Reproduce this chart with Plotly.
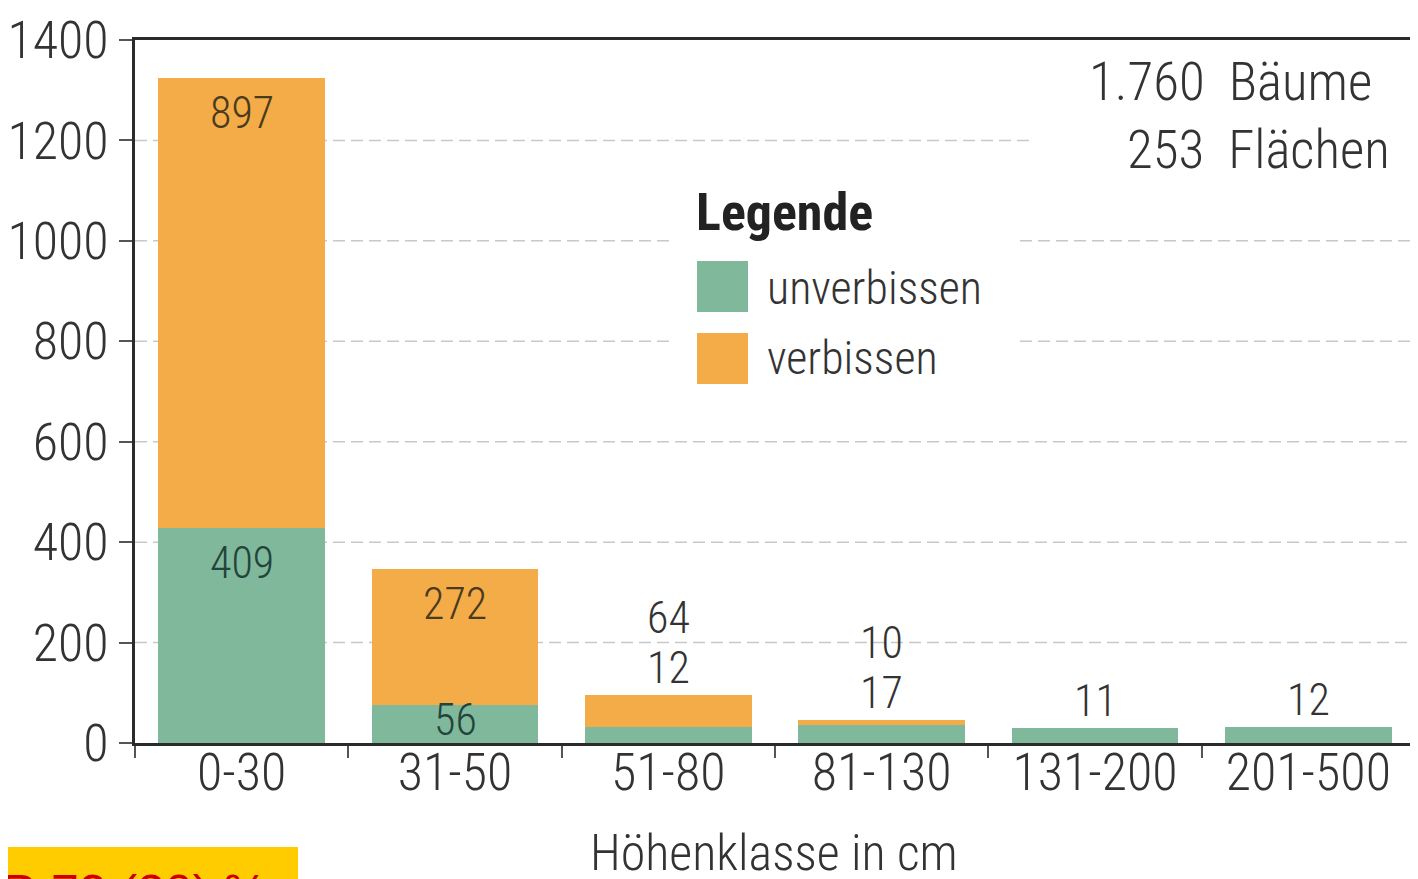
import plotly.graph_objects as go

# Werte aus der Grafik
hoehenklassen = ["0-30", "31-50", "51-80", "81-130", "131-200", "201-500"]
unverbissen = [409, 56, 12, 17, 11, 12]
verbissen = [897, 272, 64, 10, 0, 0]
y_ticks = [0, 200, 400, 600, 800, 1000, 1200, 1400]

# in der Vorlage beginnen alle gruenen Balken ca. 19 Einheiten zu hoch
SOCKEL = 19

GRUEN = "#80b89c"
ORANGE = "#f3ac48"
TEXT = "#333333"
FONT = "Roboto Condensed, Roboto, sans-serif"
LIGHT = 300

# die Seite hat 8px Rand, die Figur wird darum kleiner angelegt
RAND = 8
W, H = 1418 - RAND, 879 - RAND
L, R, T, B = 135, 1415, 40, 743


def px(x):
    return (x - L) / (R - L)


def py(y):
    return (B - y) / (B - T)


def schrift(size, color=TEXT, weight=LIGHT):
    return dict(size=size, color=color, family=FONT, weight=weight)


fig = go.Figure()

gruen_hoehe = [u + SOCKEL for u in unverbissen]

fig.add_trace(go.Bar(
    x=hoehenklassen, y=gruen_hoehe, name="unverbissen",
    marker=dict(color=GRUEN, line=dict(width=0)), width=0.78,
))
fig.add_trace(go.Bar(
    x=hoehenklassen, y=verbissen, name="verbissen",
    marker=dict(color=ORANGE, line=dict(width=0)), width=0.78,
))

annotations = []
label_size = 44
for i, kat in enumerate(hoehenklassen):
    g_top = gruen_hoehe[i]
    total = g_top + verbissen[i]
    if total > 200:
        # Beschriftung innerhalb der Balken
        annotations.append(dict(
            x=kat, y=total, yanchor="top", yshift=-7, text=str(verbissen[i]),
            showarrow=False, font=schrift(label_size, "#4a3a1e"),
        ))
        if g_top > 150:
            annotations.append(dict(
                x=kat, y=g_top, yanchor="top", yshift=-7, text=str(unverbissen[i]),
                showarrow=False, font=schrift(label_size, "#23443a"),
            ))
        else:
            annotations.append(dict(
                x=kat, y=0, yanchor="bottom", yshift=-5, text=str(unverbissen[i]),
                showarrow=False, font=schrift(label_size, "#23443a"),
            ))
    else:
        # Beschriftung ueber dem Balken
        annotations.append(dict(
            x=kat, y=total, yanchor="bottom", yshift=-1, text=str(unverbissen[i]),
            showarrow=False, font=schrift(label_size),
        ))
        if verbissen[i] > 0:
            annotations.append(dict(
                x=kat, y=total, yanchor="bottom", yshift=49, text=str(verbissen[i]),
                showarrow=False, font=schrift(label_size),
            ))

# Kennzahlen oben rechts
annotations.append(dict(
    xref="paper", yref="paper", x=px(1374), y=py(82), xanchor="right", yanchor="middle",
    text="1.760  Bäume", showarrow=False, font=schrift(53),
))
annotations.append(dict(
    xref="paper", yref="paper", x=px(1392), y=py(150), xanchor="right", yanchor="middle",
    text="253  Flächen", showarrow=False, font=schrift(53),
))

# Legende (von Hand, wegen der grossen Farbfelder)
annotations.append(dict(
    xref="paper", yref="paper", x=px(694), y=py(213), xanchor="left", yanchor="middle",
    text="Legende", showarrow=False, font=schrift(52, "#222222", 700),
))
for name, yc in [("unverbissen", 288), ("verbissen", 358)]:
    annotations.append(dict(
        xref="paper", yref="paper", x=px(765), y=py(yc), xanchor="left", yanchor="middle",
        text=name, showarrow=False, font=schrift(46),
    ))

# Achsentitel
annotations.append(dict(
    xref="paper", yref="paper", x=px(774), y=py(853), xanchor="center", yanchor="middle",
    text="Höhenklasse in cm", showarrow=False, font=schrift(50),
))

# Kennung unten links
annotations.append(dict(
    xref="paper", yref="paper", x=px(0), y=py(864), xanchor="left", yanchor="top",
    text="R 72 (30) %", showarrow=False, borderpad=0,
    font=dict(size=50, color="#cc0000", family="Liberation Sans, Arial, sans-serif"),
))

# Gitterlinien als Linien mit Luecken hinter Textblock und Legende
aussparungen = [(1035, 1415, 45, 190), (670, 1020, 175, 400)]
shapes = []
for v in y_ticks[1:-1]:
    y_pix = B - v / y_ticks[-1] * (B - T)
    start = L
    for x0, x1, y0, y1 in aussparungen:
        if y0 <= y_pix <= y1:
            shapes.append(dict(type="line", xref="paper", yref="y", x0=px(start), x1=px(x0),
                               y0=v, y1=v, line=dict(color="#c8c8c8", width=1.5, dash="12px,6px"),
                               layer="below"))
            start = x1
    if start < R:
        shapes.append(dict(type="line", xref="paper", yref="y", x0=px(start), x1=1,
                           y0=v, y1=v, line=dict(color="#c8c8c8", width=1.5, dash="12px,6px"),
                           layer="below"))

shapes += [
    # Farbfelder der Legende
    dict(type="rect", xref="paper", yref="paper", x0=px(697), x1=px(748),
         y0=py(312), y1=py(261), fillcolor=GRUEN, line=dict(width=0)),
    dict(type="rect", xref="paper", yref="paper", x0=px(697), x1=px(748),
         y0=py(384), y1=py(333), fillcolor=ORANGE, line=dict(width=0)),
    # gelbe Box unten links
    dict(type="rect", xref="paper", yref="paper", x0=px(0), x1=px(298),
         y0=py(900), y1=py(847), fillcolor="#ffcc00", line=dict(width=0), layer="below"),
]

fig.update_layout(
    width=W, height=H,
    margin=dict(l=L - RAND, r=1418 - R, t=T - RAND, b=879 - B),
    barmode="stack",
    bargap=0.22,
    showlegend=False,
    paper_bgcolor="white",
    plot_bgcolor="rgba(0,0,0,0)",
    font=dict(family=FONT, color=TEXT),
    annotations=annotations,
    shapes=shapes,
)

fig.update_xaxes(
    type="category", automargin=False, tickangle=0,
    showline=True, linecolor="#2b2b2b", linewidth=3, mirror=True,
    ticks="outside", tickson="boundaries", ticklen=12, tickwidth=2, tickcolor="#555555",
    tickfont=schrift(52), ticklabelstandoff=-18,
    showgrid=False,
)

fig.update_yaxes(
    range=[0, 1400], automargin=False,
    tickvals=y_ticks,
    showline=True, linecolor="#2b2b2b", linewidth=3, mirror=True,
    ticks="outside", ticklen=13, tickwidth=2, tickcolor="#555555",
    tickfont=schrift(52),
    showgrid=False,
    zeroline=False,
)

fig.write_html("out.html")
